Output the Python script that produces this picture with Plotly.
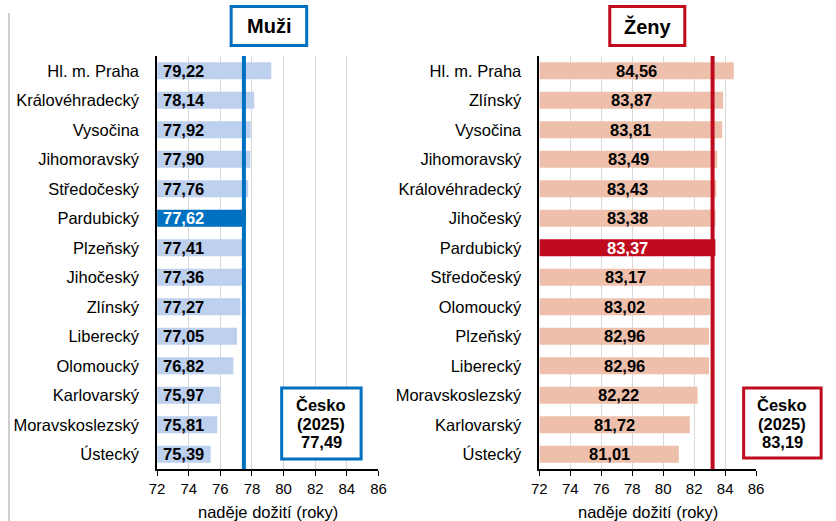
import plotly.graph_objects as go

# ---------------- data ----------------
muzi_regions = ["Hl. m. Praha", "Královéhradecký", "Vysočina", "Jihomoravský", "Středočeský",
                "Pardubický", "Plzeňský", "Jihočeský", "Zlínský", "Liberecký", "Olomoucký",
                "Karlovarský", "Moravskoslezský", "Ústecký"]
muzi_values = [79.22, 78.14, 77.92, 77.90, 77.76, 77.62, 77.41, 77.36, 77.27, 77.05, 76.82,
               75.97, 75.81, 75.39]
zeny_regions = ["Hl. m. Praha", "Zlínský", "Vysočina", "Jihomoravský", "Královéhradecký",
                "Jihočeský", "Pardubický", "Středočeský", "Olomoucký", "Plzeňský", "Liberecký",
                "Moravskoslezský", "Karlovarský", "Ústecký"]
zeny_values = [84.56, 83.87, 83.81, 83.49, 83.43, 83.38, 83.37, 83.17, 83.02, 82.96, 82.96,
               82.22, 81.72, 81.01]
cesko_muzi = 77.49
cesko_zeny = 83.19
highlight = "Pardubický"
x_ticks = [72, 74, 76, 78, 80, 82, 84, 86]
axis_title = "naděje dožití (roky)"
panel_titles = ["Muži", "Ženy"]
box_lines = ["Česko", "(2025)"]

# ---------------- style ----------------
W, H = 836, 521
FONT = "Liberation Sans, Arial, sans-serif"
BLUE = "#0070C0"
LBLUE = "#BDD0EE"
RED = "#C00A1E"
SALMON = "#EEC0AC"
GRID = "#D9D9D9"
BASE = 72
FS = 16.5


def fmt(v):
    return f"{v:.2f}".replace(".", ",")


def px_x(p):
    return p / W


def px_y(p):
    return 1 - p / H


left_dom = [px_x(152), px_x(377.7)]
right_dom = [px_x(541.7), px_x(762.7)]
y_dom = [px_y(469), px_y(56)]

fig = go.Figure()

fig.add_trace(go.Bar(
    y=muzi_regions, x=[v - BASE for v in muzi_values], base=BASE, orientation="h",
    marker=dict(color=[BLUE if r == highlight else LBLUE for r in muzi_regions], line_width=0),
    xaxis="x", yaxis="y", showlegend=False, hoverinfo="skip"))
fig.add_trace(go.Bar(
    y=zeny_regions, x=[v - BASE for v in zeny_values], base=BASE, orientation="h",
    marker=dict(color=[RED if r == highlight else SALMON for r in zeny_regions], line_width=0),
    xaxis="x2", yaxis="y2", showlegend=False, hoverinfo="skip"))

annotations = []
# value labels
for r, v in zip(muzi_regions, muzi_values):
    annotations.append(dict(x=BASE, y=r, xref="x", yref="y", text=fmt(v), showarrow=False,
                            xanchor="left", xshift=4,
                            font=dict(family=FONT, size=FS, color="white" if r == highlight else "black",
                                      weight="bold")))
for r, v in zip(zeny_regions, zeny_values):
    annotations.append(dict(x=(BASE + v) / 2, y=r, xref="x2", yref="y2", text=fmt(v), showarrow=False,
                            xanchor="center",
                            font=dict(family=FONT, size=FS, color="white" if r == highlight else "black",
                                      weight="bold")))

# panel titles
for t, cx in zip(panel_titles, [266, 652]):
    annotations.append(dict(x=px_x(cx), y=px_y(26), xref="paper", yref="paper", text=t, showarrow=False,
                            xanchor="center", yanchor="middle",
                            font=dict(family=FONT, size=20, color="black", weight="bold")))

# axis titles
for dom in (left_dom, right_dom):
    annotations.append(dict(x=(dom[0] + dom[1]) / 2, y=px_y(512), xref="paper", yref="paper",
                            text=axis_title, showarrow=False, xanchor="center", yanchor="middle",
                            font=dict(family=FONT, size=FS, color="black")))

# Česko boxes text
for cx, val in [(319.5, cesko_muzi), (789.5, cesko_zeny)]:
    for txt, cy in zip(box_lines + [fmt(val)], [405, 424, 442]):
        annotations.append(dict(x=px_x(cx), y=px_y(cy), xref="paper", yref="paper", text=txt,
                                showarrow=False, xanchor="center", yanchor="middle",
                                font=dict(family=FONT, size=FS, color="black", weight="bold")))

shapes = [
    # national average lines
    dict(type="line", xref="x", yref="y domain", x0=cesko_muzi, x1=cesko_muzi, y0=0, y1=1,
         line=dict(color=BLUE, width=4), layer="above"),
    dict(type="line", xref="x2", yref="y2 domain", x0=cesko_zeny, x1=cesko_zeny, y0=0, y1=1,
         line=dict(color=RED, width=4), layer="above"),
    # title boxes
    dict(type="rect", xref="paper", yref="paper", x0=px_x(227.5), x1=px_x(304.5), y0=px_y(45.5), y1=px_y(6.5),
         line=dict(color=BLUE, width=3), fillcolor="white"),
    dict(type="rect", xref="paper", yref="paper", x0=px_x(613.5), x1=px_x(690), y0=px_y(45.5), y1=px_y(6.5),
         line=dict(color=RED, width=3), fillcolor="white"),
    # Česko boxes
    dict(type="rect", xref="paper", yref="paper", x0=px_x(279), x1=px_x(360), y0=px_y(459), y1=px_y(388),
         line=dict(color=BLUE, width=3), fillcolor="white", layer="above"),
    dict(type="rect", xref="paper", yref="paper", x0=px_x(750), x1=px_x(829), y0=px_y(458), y1=px_y(388),
         line=dict(color=RED, width=3), fillcolor="white", layer="above"),
    # left frame edge
    dict(type="line", xref="paper", yref="paper", x0=px_x(1), x1=px_x(1), y0=0, y1=px_y(13),
         line=dict(color="#BFBFBF", width=1.5)),
]

xaxis_common = dict(range=[72, 86], tickvals=x_ticks, ticktext=[str(t) for t in x_ticks],
                    showgrid=True, gridcolor=GRID, gridwidth=1, zeroline=False,
                    showline=True, linecolor="black", linewidth=1.5,
                    ticks="outside", ticklen=5, tickcolor="black", tickwidth=1,
                    tickfont=dict(family=FONT, size=15, color="black"), fixedrange=True)
yaxis_common = dict(autorange="reversed", showline=True, linecolor="black", linewidth=1.5,
                    ticks="", showgrid=False, ticklabelstandoff=13,
                    tickfont=dict(family=FONT, size=FS, color="black"), fixedrange=True)

fig.update_layout(
    width=W, height=H,
    margin=dict(l=0, r=0, t=0, b=0),
    paper_bgcolor="white", plot_bgcolor="white",
    bargap=0.43,
    xaxis=dict(domain=left_dom, anchor="y", **xaxis_common),
    xaxis2=dict(domain=right_dom, anchor="y2", **xaxis_common),
    yaxis=dict(domain=y_dom, anchor="x", **yaxis_common),
    yaxis2=dict(domain=y_dom, anchor="x2", **yaxis_common),
    annotations=annotations,
    shapes=shapes,
    font=dict(family=FONT),
)

fig.write_html("out.html", config={"displayModeBar": False},
               post_script="document.body.style.margin='0';document.body.style.padding='0';")
